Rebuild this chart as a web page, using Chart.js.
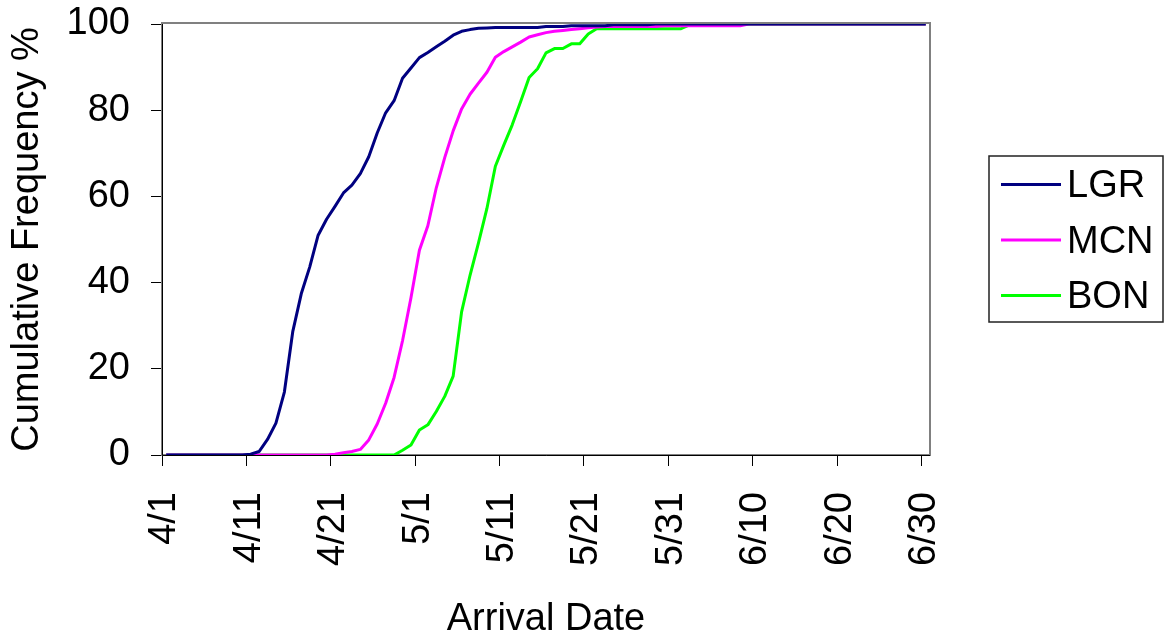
<!DOCTYPE html>
<html>
<head>
<meta charset="utf-8">
<title>Cumulative arrival timing</title>
<script src="https://cdn.jsdelivr.net/npm/chart.js@4.4.1/dist/chart.umd.min.js"></script>
<style>
  html, body { margin: 0; padding: 0; background: #fff; }
  #wrap { width: 1165px; height: 636px; }
</style>
</head>
<body>
<div id="wrap"><canvas id="arrival_chart" width="1165" height="636"></canvas></div>
<script>
// days since 4/1 where the date ticks sit
const tickDays = [0, 10, 20, 30, 40, 50, 60, 70, 80, 90];
const tickLabels = ['4/1', '4/11', '4/21', '5/1', '5/11', '5/21', '5/31', '6/10', '6/20', '6/30'];

// daily cumulative frequency (%), one value per day from 4/1 to 6/30
const lgr = [
    0, 0, 0, 0, 0, 0, 0, 0, 0, 0,
    0.2, 0.8, 3.6, 7.4, 14.6, 28.7, 37.4, 43.6, 51.0, 54.7,
    57.7, 60.8, 62.6, 65.3, 69.2, 74.7, 79.4, 82.2, 87.4, 89.8,
    92.2, 93.4, 94.7, 96.0, 97.4, 98.3, 98.7, 99.0, 99.1, 99.2,
    99.2, 99.2, 99.2, 99.2, 99.2, 99.4, 99.4, 99.4, 99.6, 99.6,
    99.6, 99.6, 99.6, 99.8, 99.8, 99.8, 99.8, 99.8, 100, 100,
    100, 100, 100, 100, 100, 100, 100, 100, 100, 100,
    100, 100, 100, 100, 100, 100, 100, 100, 100, 100,
    100, 100, 100, 100, 100, 100, 100, 100, 100, 100,
    100
];

const mcn = [
    0, 0, 0, 0, 0, 0, 0, 0, 0, 0,
    0, 0, 0, 0, 0, 0, 0, 0, 0, 0,
    0.2, 0.5, 0.8, 1.3, 3.5, 7.2, 12.0, 18.0, 26.5, 36.5,
    47.5, 53.2, 62.0, 69.0, 75.2, 80.3, 83.7, 86.3, 88.8, 92.3,
    93.6, 94.7, 95.8, 97.0, 97.5, 98.0, 98.3, 98.5, 98.7, 98.9,
    99.1, 99.3, 99.4, 99.4, 99.4, 99.4, 99.4, 99.4, 99.4, 99.6,
    99.6, 99.6, 99.6, 99.6, 99.6, 99.6, 99.6, 99.6, 99.6, 100,
    100, 100, 100, 100, 100, 100, 100, 100, 100, 100,
    100, 100, 100, 100, 100, 100, 100, 100, 100, 100,
    100
];

const bon = [
    0, 0, 0, 0, 0, 0, 0, 0, 0, 0,
    0, 0, 0, 0, 0, 0, 0, 0, 0, 0,
    0, 0, 0, 0, 0, 0, 0, 0, 1.1, 2.3,
    5.8, 7.0, 10.1, 13.6, 18.3, 33.2, 41.7, 49.2, 57.2, 67.0,
    71.9, 76.6, 82.0, 87.6, 89.6, 93.3, 94.3, 94.3, 95.4, 95.4,
    97.7, 98.9, 98.9, 98.9, 98.9, 98.9, 98.9, 98.9, 98.9, 98.9,
    98.9, 98.9, 99.8, 100, 100, 100, 100, 100, 100, 100,
    100, 100, 100, 100, 100, 100, 100, 100, 100, 100,
    100, 100, 100, 100, 100, 100, 100, 100, 100, 100,
    100
];

const FONT = 'Liberation Sans, Arial, Helvetica, sans-serif';

// each day's value is plotted in the middle of that day
const asPoints = values => values.map((v, i) => ({ x: i + 0.5, y: v }));

// grey plot-area frame, drawn under the lines
const plotFrame = {
    id: 'plotFrame',
    beforeDatasetsDraw(chart) {
        const { ctx, chartArea: a } = chart;
        ctx.save();
        ctx.strokeStyle = '#808080';
        ctx.lineWidth = 2;
        ctx.strokeRect(a.left, a.top - 1, a.right - a.left, a.bottom - a.top + 1);
        ctx.strokeStyle = '#000';
        ctx.lineWidth = 1;
        ctx.beginPath();
        ctx.moveTo(a.left + 0.5, a.top);
        ctx.lineTo(a.left + 0.5, a.bottom + 0.5);
        ctx.lineTo(a.right, a.bottom + 0.5);
        ctx.stroke();
        ctx.restore();
    }
};

// boxed legend to the right of the plot
const boxedLegend = {
    id: 'boxedLegend',
    afterDraw(chart) {
        const { ctx, chartArea: a } = chart;
        const x = a.right + 59, y = 156, w = 174, h = 166;
        ctx.save();
        ctx.strokeStyle = '#222';
        ctx.lineWidth = 1.5;
        ctx.strokeRect(x, y, w, h);
        ctx.font = '38px ' + FONT;
        ctx.fillStyle = '#000';
        ctx.textBaseline = 'alphabetic';
        ctx.textAlign = 'left';
        chart.data.datasets.forEach((ds, i) => {
            const cy = y + 28.5 + i * 55.5;
            ctx.strokeStyle = ds.borderColor;
            ctx.lineWidth = 3;
            ctx.beginPath();
            ctx.moveTo(x + 12, cy);
            ctx.lineTo(x + 72, cy);
            ctx.stroke();
            ctx.fillText(ds.label, x + 78, cy + 12.5);
        });
        ctx.restore();
    }
};

const ctx = document.getElementById('arrival_chart').getContext('2d');
const arrivalChart = new Chart(ctx, {
    type: 'line',
    data: {
        datasets: [
            { label: 'LGR', data: asPoints(lgr), borderColor: '#000080' },
            { label: 'MCN', data: asPoints(mcn), borderColor: '#ff00ff' },
            { label: 'BON', data: asPoints(bon), borderColor: '#00ff00' }
        ]
    },
    options: {
        responsive: false,
        animation: false,
        layout: { padding: { top: 24, right: 235, bottom: 0, left: 0 } },
        elements: {
            point: { radius: 0 },
            line: { borderWidth: 3, tension: 0, fill: false, borderJoinStyle: 'round' }
        },
        plugins: {
            legend: { display: false },
            tooltip: { enabled: false }
        },
        scales: {
            x: {
                type: 'linear',
                min: 0,
                max: 91,
                afterBuildTicks: scale => { scale.ticks = tickDays.map(v => ({ value: v })); },
                afterFit: scale => { scale.height = 181; },
                ticks: {
                    minRotation: 90,
                    maxRotation: 90,
                    padding: 26,
                    labelOffset: 3,
                    color: '#000',
                    font: { family: FONT, size: 38 },
                    callback: (value, index) => tickLabels[index]
                },
                grid: { drawOnChartArea: false, tickLength: 11, color: '#000' },
                border: { display: false },
                title: {
                    display: true,
                    text: 'Arrival Date',
                    color: '#000',
                    font: { family: FONT, size: 38, lineHeight: 1 },
                    padding: { top: 0, bottom: -3 }
                }
            },
            y: {
                min: 0,
                max: 100,
                afterFit: scale => {
                    scale.width = 162;
                    // keep the plot top fixed instead of padding for the top label
                    scale.paddingTop = 0;
                    scale.paddingBottom = 0;
                },
                ticks: {
                    stepSize: 20,
                    padding: 21,
                    color: '#000',
                    font: { family: FONT, size: 38 }
                },
                grid: { drawOnChartArea: false, tickLength: 11, color: '#000' },
                border: { display: false },
                title: {
                    display: true,
                    text: 'Cumulative Frequency %',
                    color: '#000',
                    font: { family: FONT, size: 38, lineHeight: 1 },
                    padding: { top: 9, bottom: 0 }
                }
            }
        }
    },
    plugins: [plotFrame, boxedLegend]
});
</script>
</body>
</html>
